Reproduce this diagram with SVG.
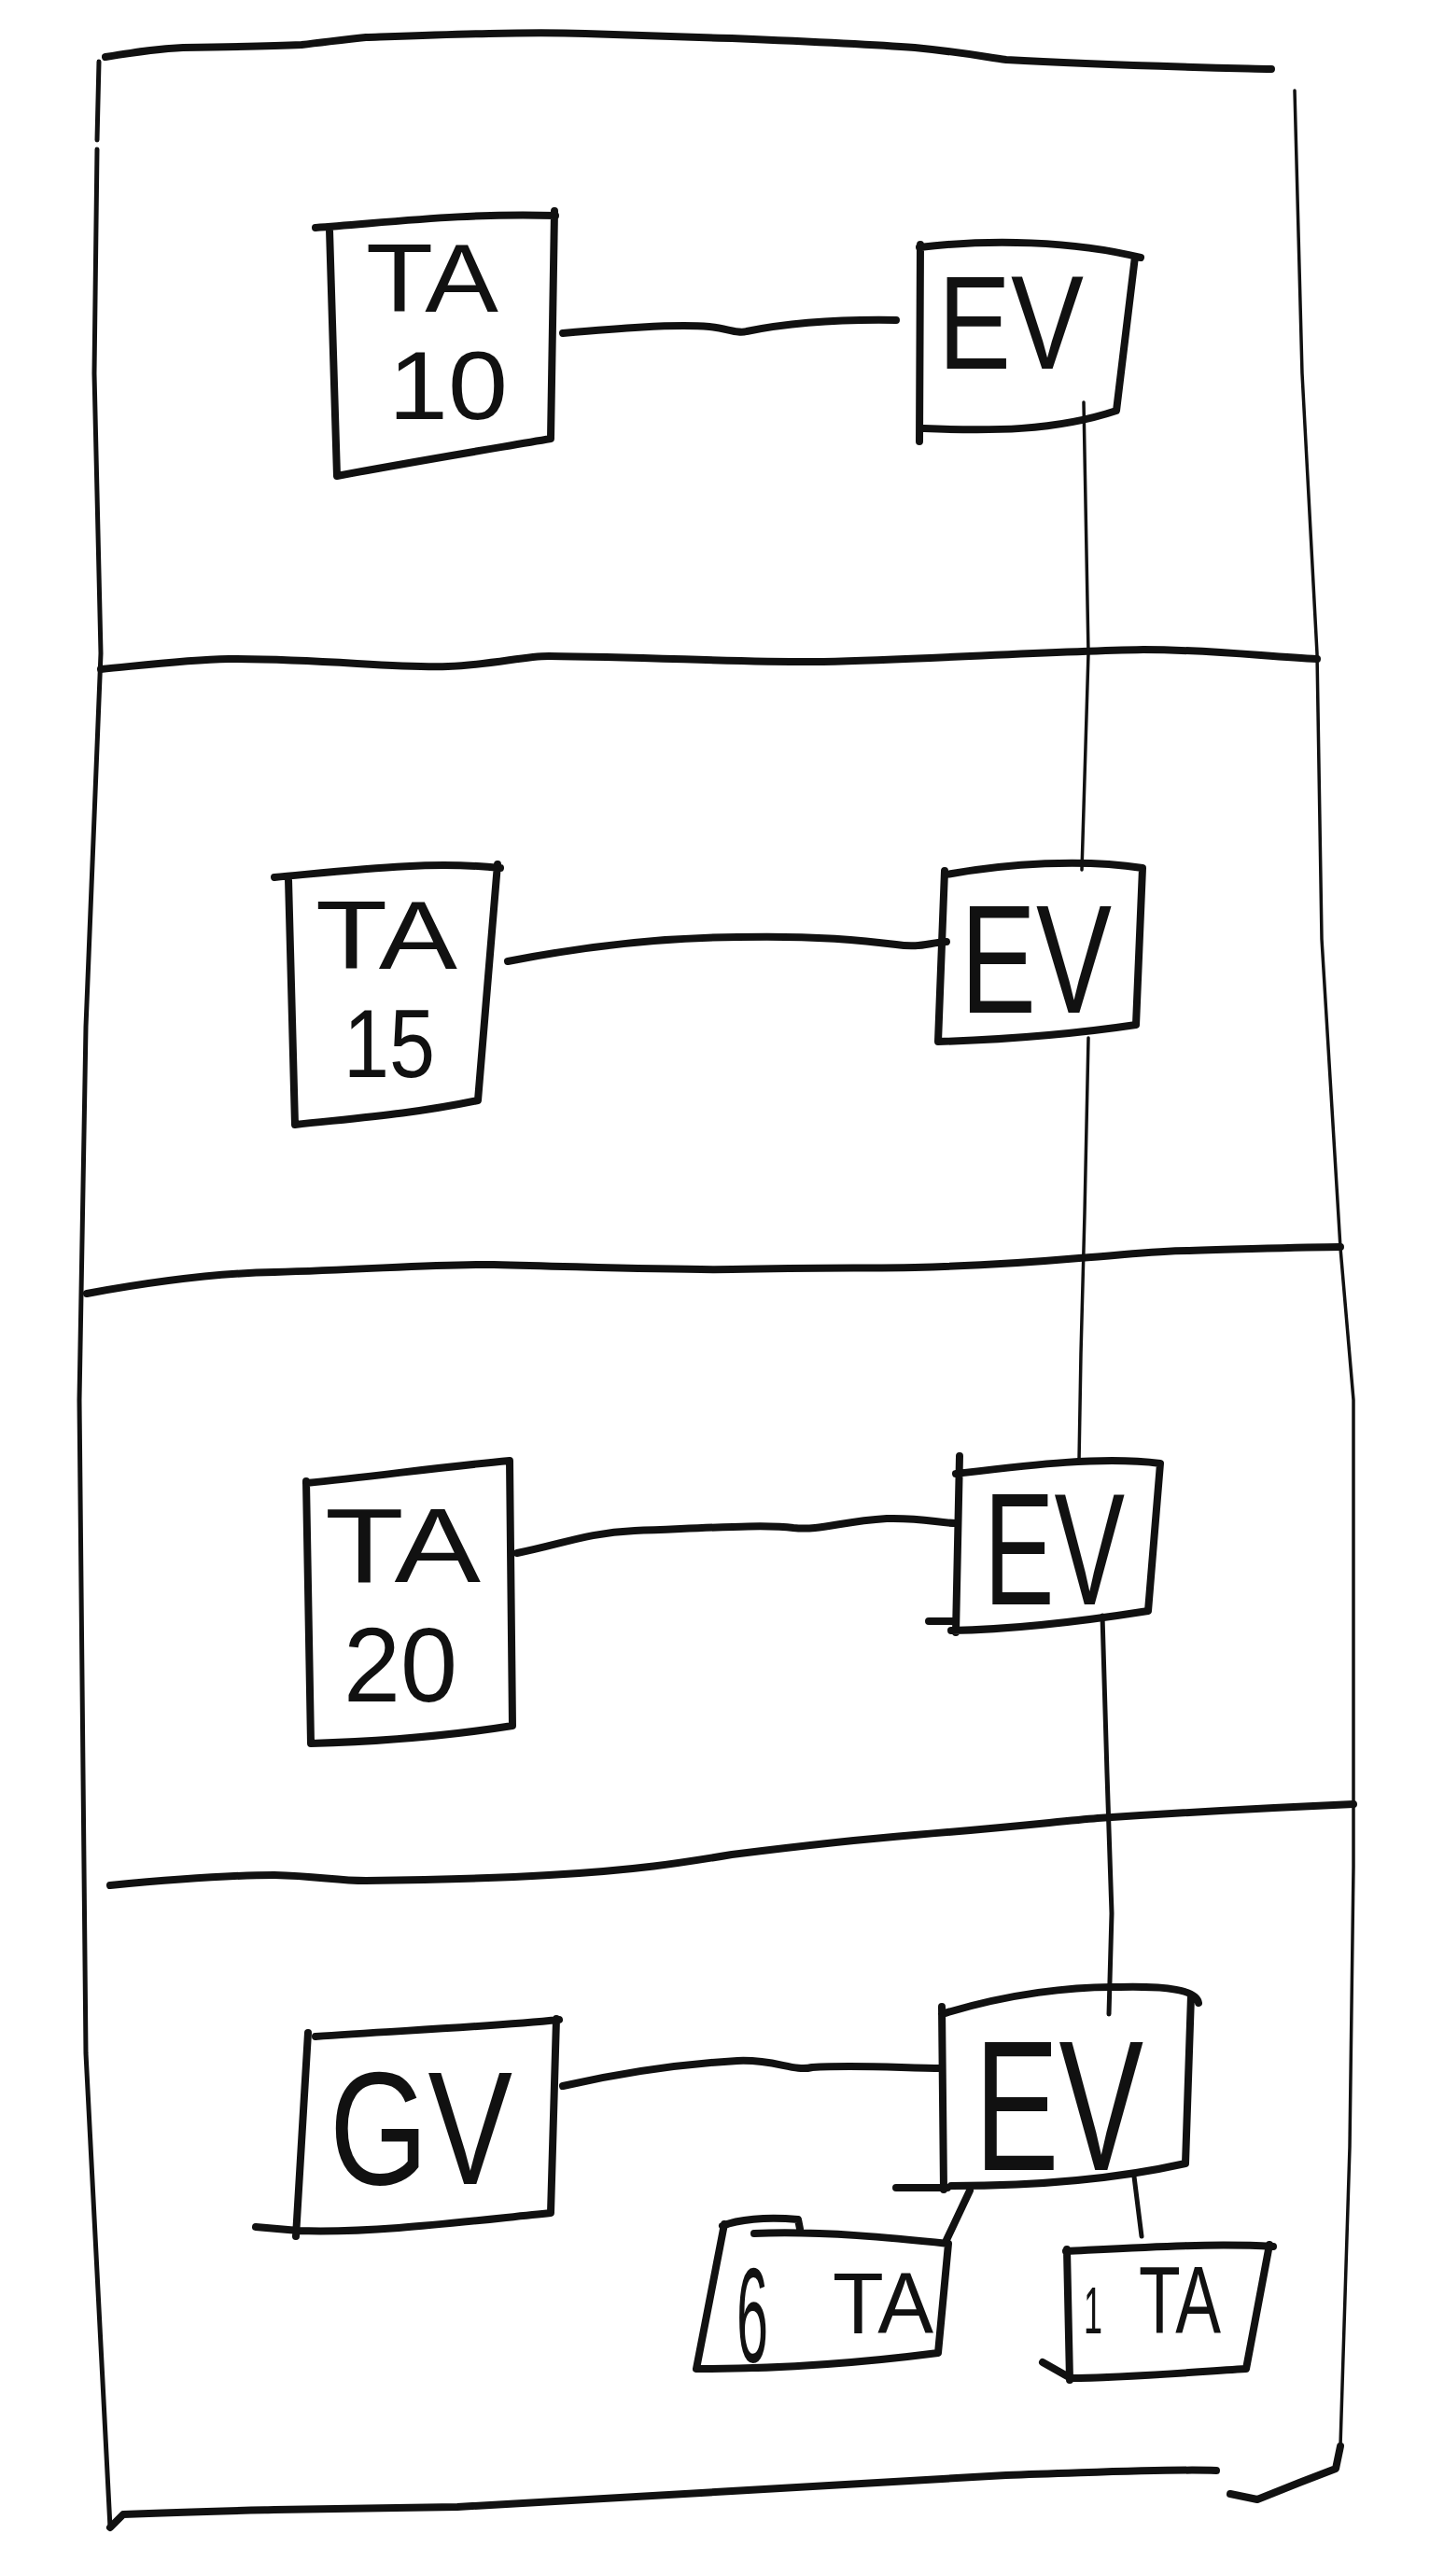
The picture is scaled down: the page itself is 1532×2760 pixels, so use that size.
<svg xmlns="http://www.w3.org/2000/svg" width="1532" height="2760" viewBox="0 0 1532 2760">
<style>
.f{fill:none;stroke:#111;stroke-linecap:round;stroke-linejoin:round}
.b{stroke-width:8}
.thin{stroke-width:3.5}
.med{stroke-width:5}
.t{font-family:"Liberation Sans",Arial,sans-serif;fill:#111}
</style>
<rect width="1532" height="2760" fill="#fff"/>
<g id="frame" class="f">
<path class="b" d="M113,61 C150,55 170,52 196,51 C260,50 300,49 323,48 C350,45 370,42 392,40 C480,37 560,34 627,36 C700,38 740,40 784,41 C880,45 940,48 980,51 C1030,56 1050,60 1078,64 C1180,70 1280,72 1362,74"/>
<path class="med" d="M106,66 L104,150 M104,160 L101,400 L108,700 L104,800 L92,1100 L85,1500 L88,1800 L92,2200 L118,2708"/>
<path class="thin" d="M1387,97 L1395,400 L1411,700 L1416,1006 L1436,1337 L1450,1500 L1450,2000 L1446,2300 L1436,2621"/>
<path class="b" d="M118,2708 L132,2694 C200,2691 250,2690 294,2689 C380,2688 440,2687 490,2686 C600,2680 700,2674 784,2669 C900,2662 1000,2656 1078,2652 C1180,2649 1250,2645 1303,2647"/>
<path class="b" d="M1318,2672 L1347,2678 L1392,2660 L1431,2645 L1436,2621"/>
<path class="b" d="M108,717 C160,712 200,707 245,706 C350,706 420,716 480,714 C530,712 560,703 588,703 C700,704 800,710 882,709 C1000,706 1120,698 1225,696 C1300,696 1360,704 1411,706"/>
<path class="b" d="M93,1386 C180,1370 240,1364 294,1363 C400,1360 470,1354 529,1355 C650,1358 720,1361 784,1360 C880,1358 930,1359 980,1358 C1060,1356 1110,1352 1156,1348 C1210,1344 1240,1340 1274,1340 C1350,1338 1400,1336 1436,1336"/>
<path class="b" d="M118,2020 C200,2012 250,2009 294,2009 C340,2010 360,2015 392,2015 C480,2014 540,2012 588,2009 C680,2004 730,1996 784,1987 C880,1975 930,1970 980,1966 C1080,1958 1130,1952 1176,1948 C1300,1940 1380,1936 1450,1933"/>
</g>
<g id="connectors" class="f">
<path class="b" d="M603,357 C660,352 720,347 760,350 C780,352 790,358 800,355 C850,345 900,342 960,343"/>
<path class="b" d="M544,1030 C620,1015 700,1005 790,1004 C880,1002 930,1008 960,1012 C985,1016 995,1010 1014,1009"/>
<path class="b" d="M554,1664 C600,1655 630,1642 680,1640 C760,1637 820,1633 850,1637 C880,1640 900,1630 950,1627 C990,1626 1005,1632 1024,1632"/>
<path class="b" d="M603,2235 C660,2222 720,2212 790,2208 C830,2206 850,2220 870,2215 C920,2212 970,2216 1009,2216"/>
<path class="thin" d="M1161,431 L1166,700 L1163,800 L1159,932"/>
<path class="thin" d="M1166,1112 L1162,1300 L1158,1450 L1156,1566"/>
<path class="med" d="M1181,1731 L1186,1900 L1191,2050 L1188,2158"/>
<path class="b" d="M1039,2347 L1014,2400"/>
<path class="med" d="M1215,2332 L1223,2396"/>
</g>
<g id="ta10">
<path class="f b" d="M338,244 C420,238 500,228 595,231 M594,226 L590,470 C520,482 440,495 361,510 L353,246"/>
<text class="t" font-size="103"><tspan x="392" y="334" textLength="142" lengthAdjust="spacingAndGlyphs">TA</tspan><tspan x="416" y="449" textLength="128" lengthAdjust="spacingAndGlyphs">10</tspan></text>
</g>
<g id="ev1">
<path class="f b" d="M985,265 C1060,256 1150,258 1222,276 M1216,275 L1196,440 C1130,462 1060,462 990,459 M986,262 L985,473"/>
<text class="t" x="1005" y="395" font-size="142" textLength="156" lengthAdjust="spacingAndGlyphs">EV</text>
</g>
<g id="ta15">
<path class="f b" d="M294,940 C380,932 460,922 536,930 M533,926 L512,1179 C440,1194 380,1198 316,1205 L309,942"/>
<text class="t" font-size="103"><tspan x="338" y="1038" textLength="152" lengthAdjust="spacingAndGlyphs">TA</tspan><tspan x="368" y="1154" textLength="98" lengthAdjust="spacingAndGlyphs">15</tspan></text>
</g>
<g id="ev2">
<path class="f b" d="M1014,937 C1080,925 1160,920 1224,930 L1217,1098 C1150,1108 1070,1114 1005,1116 L1012,933"/>
<text class="t" x="1029" y="1085" font-size="165" textLength="162" lengthAdjust="spacingAndGlyphs">EV</text>
</g>
<g id="ta20">
<path class="f b" d="M328,1589 C400,1582 470,1572 546,1565 L549,1849 C480,1860 400,1866 333,1868 L328,1587"/>
<text class="t" font-size="113"><tspan x="348" y="1695" textLength="167" lengthAdjust="spacingAndGlyphs">TA</tspan><tspan x="368" y="1823" textLength="122" lengthAdjust="spacingAndGlyphs">20</tspan></text>
</g>
<g id="ev3">
<path class="f b" d="M1024,1579 C1100,1570 1180,1560 1243,1568 L1230,1726 C1160,1737 1080,1746 1019,1747 M1028,1560 L1024,1749 M995,1737 L1022,1737"/>
<text class="t" x="1054" y="1719" font-size="170" textLength="151" lengthAdjust="spacingAndGlyphs">EV</text>
</g>
<g id="gv">
<path class="f b" d="M338,2182 C420,2176 520,2172 599,2164 M596,2163 L590,2371 C500,2380 400,2393 319,2390 M330,2178 L317,2396 M274,2386 L320,2390"/>
<text class="t" x="353" y="2340" font-size="173" textLength="196" lengthAdjust="spacingAndGlyphs">GV</text>
</g>
<g id="ev4">
<path class="f b" d="M1009,2158 C1080,2136 1150,2128 1200,2129 C1250,2128 1282,2132 1284,2146 M1276,2138 L1270,2318 C1190,2336 1100,2342 1019,2342 M1009,2150 L1011,2346 M960,2344 L1015,2344"/>
<text class="t" x="1044" y="2325" font-size="198" textLength="181" lengthAdjust="spacingAndGlyphs">EV</text>
</g>
<g id="ta6">
<path class="f b" d="M774,2385 C790,2378 820,2375 855,2378 L857,2388 M808,2393 C880,2390 960,2398 1016,2404 L1005,2521 C920,2532 840,2538 750,2538 M776,2383 L746,2538"/>
<text class="t"><tspan x="789" y="2531" font-size="145" textLength="34" lengthAdjust="spacingAndGlyphs">6</tspan> <tspan x="892" y="2500" font-size="92" textLength="108" lengthAdjust="spacingAndGlyphs">TA</tspan></text>
</g>
<g id="ta1">
<path class="f b" d="M1142,2412 C1220,2408 1300,2403 1364,2407 M1360,2405 L1335,2538 C1270,2542 1200,2548 1147,2548 L1117,2531 M1143,2410 L1146,2550"/>
<text class="t"><tspan x="1161" y="2500" font-size="70" textLength="20" lengthAdjust="spacingAndGlyphs">1</tspan> <tspan x="1220" y="2500" font-size="102" textLength="88" lengthAdjust="spacingAndGlyphs">TA</tspan></text>
</g>
</svg>
